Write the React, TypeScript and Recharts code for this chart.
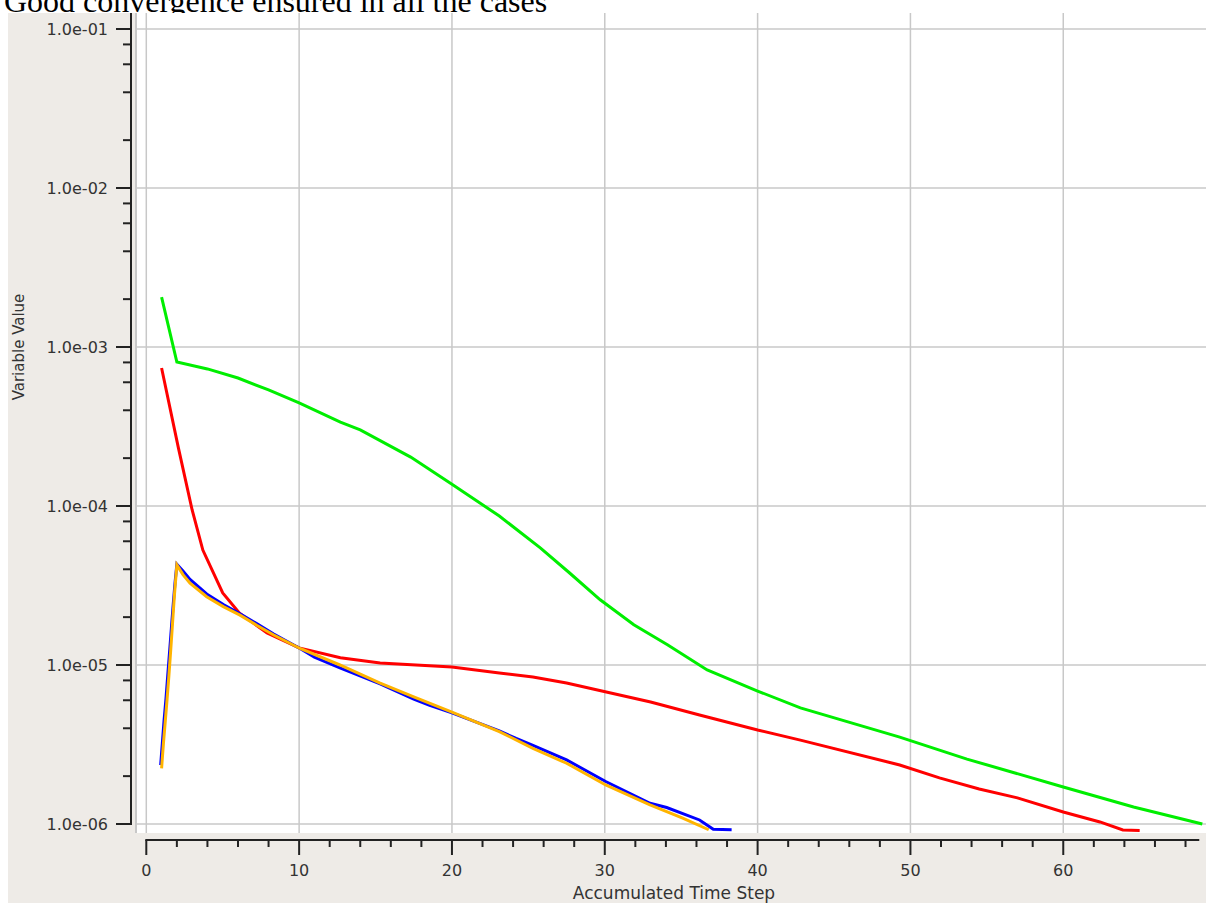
import { LineChart, Line, XAxis, YAxis, CartesianGrid, ReferenceLine } from "recharts";

// chart geometry
const CHART_W = 1198;
const CHART_H = 890;
const Y_AXIS_W = 128;
const X_AXIS_H = 70;
const X_MIN = -0.674;
const X_MAX = 69.34;
const Y_MIN = 8.777e-7;
const Y_MAX = 0.1261;
const X_AXIS_END = 68.9;
const PX_PER_STEP = (CHART_W - Y_AXIS_W) / (X_MAX - X_MIN);

const TEXT = "#333";
const AXIS = "#222";
const GRID = "#c8c8c8";
const FONT = "DejaVu Sans";

// ticks
const xTicks = [0, 2, 4, 6, 8, 10, 12, 14, 16, 18, 20, 22, 24, 26, 28, 30, 32, 34, 36, 38, 40, 42, 44, 46, 48, 50, 52, 54, 56, 58, 60, 62, 64, 66, 68];
const xGrid = [0, 10, 20, 30, 40, 50, 60];
const yMajor = [1e-6, 1e-5, 1e-4, 1e-3, 1e-2, 1e-1];
const yMinorMult = [2, 4, 6, 8];
const yTicks = [
  ...yMajor,
  ...yMajor.slice(0, 5).flatMap((d) => yMinorMult.map((m) => m * d)),
];

// series (accumulated time step, variable value)
const greenSteps = [1, 2, 4, 6, 8, 10, 12.7, 14, 17.3, 20, 23.1, 25.8, 27.7, 29.7, 31.9, 34.1, 36.7, 40, 42.8, 49.3, 53.7, 60, 64.6, 69.1];
const greenValues = [2.06e-3, 8.05e-4, 7.28e-4, 6.38e-4, 5.37e-4, 4.45e-4, 3.37e-4, 3.01e-4, 2.03e-4, 1.37e-4, 8.65e-5, 5.44e-5, 3.79e-5, 2.57e-5, 1.79e-5, 1.34e-5, 9.31e-6, 6.86e-6, 5.37e-6, 3.52e-6, 2.56e-6, 1.71e-6, 1.28e-6, 1.0e-6];

const redSteps = [1, 2.1, 3, 3.7, 5, 6.1, 7.9, 10, 12.7, 15.3, 20, 23.1, 25.3, 27.5, 30.1, 33, 36.2, 40, 42.8, 49.3, 51.9, 54.5, 57, 60, 62.4, 63.9, 65];
const redValues = [7.38e-4, 2.32e-4, 9.44e-5, 5.28e-5, 2.84e-5, 2.12e-5, 1.59e-5, 1.28e-5, 1.11e-5, 1.03e-5, 9.7e-6, 8.9e-6, 8.41e-6, 7.7e-6, 6.76e-6, 5.85e-6, 4.85e-6, 3.9e-6, 3.37e-6, 2.35e-6, 1.95e-6, 1.66e-6, 1.46e-6, 1.19e-6, 1.03e-6, 9.17e-7, 9.1e-7];

const blueSteps = [0.94, 1.05, 1.16, 1.29, 1.4, 1.52, 1.64, 1.76, 1.88, 2, 2.4, 2.86, 3.95, 5.04, 6.13, 7.22, 8.31, 10.06, 11, 12.67, 15.3, 17.5, 18.5, 20, 23.1, 24.2, 25.3, 27.5, 30.06, 32.96, 34.05, 36.2, 37.1, 38.3];
const blueValues = [2.35e-6, 3.23e-6, 4.45e-6, 6.19e-6, 8.53e-6, 1.2e-5, 1.7e-5, 2.4e-5, 3.3e-5, 4.3e-5, 3.9e-5, 3.45e-5, 2.8e-5, 2.4e-5, 2.1e-5, 1.82e-5, 1.57e-5, 1.27e-5, 1.12e-5, 9.6e-6, 7.6e-6, 6.1e-6, 5.6e-6, 5.0e-6, 3.85e-6, 3.45e-6, 3.12e-6, 2.53e-6, 1.85e-6, 1.35e-6, 1.27e-6, 1.06e-6, 9.26e-7, 9.2e-7];

const orangeSteps = [1, 1.12, 1.24, 1.36, 1.48, 1.6, 1.72, 1.84, 2, 2.4, 2.86, 3.95, 5.04, 6.13, 7.22, 8.31, 10.06, 12.67, 15.3, 17.5, 20, 23.1, 25.3, 27.5, 30.06, 32.96, 35.1, 36.8];
const orangeValues = [2.24e-6, 3.2e-6, 4.4e-6, 6.1e-6, 8.6e-6, 1.25e-5, 1.85e-5, 2.75e-5, 4.26e-5, 3.7e-5, 3.27e-5, 2.69e-5, 2.33e-5, 2.06e-5, 1.78e-5, 1.55e-5, 1.27e-5, 1.0e-5, 7.7e-6, 6.3e-6, 5.06e-6, 3.81e-6, 2.99e-6, 2.41e-6, 1.76e-6, 1.32e-6, 1.09e-6, 9.2e-7];

const toData = (steps: number[], values: number[]) =>
  steps.map((x, i) => ({ x, v: values[i] }));

const series = [
  { name: "green", color: "#00ee00", data: toData(greenSteps, greenValues) },
  { name: "red", color: "#ff0000", data: toData(redSteps, redValues) },
  { name: "blue", color: "#0000ff", data: toData(blueSteps, blueValues) },
  { name: "orange", color: "#ffb400", data: toData(orangeSteps, orangeValues) },
];

const isMajor = (v: number) =>
  Math.abs(Math.log10(v) - Math.round(Math.log10(v))) < 1e-6;

const fmtExp = (v: number) => {
  const e = Math.round(Math.log10(v));
  const abs = Math.abs(e);
  return `1.0e${e < 0 ? "-" : "+"}${abs < 10 ? "0" : ""}${abs}`;
};

function YTick(props: any) {
  const { x, y, payload } = props;
  const v = payload.value;
  const major = isMajor(v);
  const ax = x - 5;
  return (
    <g>
      <line x1={ax - (major ? 15 : 8)} x2={ax} y1={y} y2={y} stroke={AXIS} strokeWidth={2} />
      {major && (
        <text x={ax - 23} y={y + 6} textAnchor="end" fontSize={16} fill={TEXT} fontFamily={FONT}>
          {fmtExp(v)}
        </text>
      )}
      {v === yMajor[0] && (
        <line x1={ax} x2={ax} y1={y + 1} y2={0} stroke={AXIS} strokeWidth={2} />
      )}
    </g>
  );
}

function XTick(props: any) {
  const { x, y, payload } = props;
  const v = payload.value;
  const major = v % 10 === 0;
  const ay = y + 7;
  return (
    <g>
      <line x1={x} x2={x} y1={ay} y2={ay + (major ? 15 : 7)} stroke={AXIS} strokeWidth={2} />
      {major && (
        <text x={x} y={y + 43} textAnchor="middle" fontSize={16} fill={TEXT} fontFamily={FONT}>
          {v}
        </text>
      )}
      {v === 0 && (
        <line x1={x - 1} x2={x + X_AXIS_END * PX_PER_STEP} y1={ay} y2={ay} stroke={AXIS} strokeWidth={2} />
      )}
    </g>
  );
}

export default function App() {
  return (
    <div style={{ position: "absolute", left: 0, top: 0, width: 1206, height: 903, overflow: "hidden", background: "#fff" }}>
      <div
        style={{
          position: "absolute",
          left: 4,
          top: -15,
          fontFamily: "Liberation Serif",
          fontSize: 32,
          lineHeight: "32px",
          whiteSpace: "nowrap",
          color: "#000",
        }}
      >
        Good convergence ensured in all the cases
      </div>
      <div style={{ position: "absolute", left: 8, top: 13, width: CHART_W, height: CHART_H, background: "#eeebe7" }}>
        <LineChart width={CHART_W} height={CHART_H} margin={{ top: 0, right: 0, bottom: 0, left: 0 }}>
          <CartesianGrid
            fill="#ffffff"
            stroke={GRID}
            strokeWidth={1.5}
            verticalValues={xGrid}
            horizontalValues={yMajor}
          />
          <XAxis
            dataKey="x"
            type="number"
            domain={[X_MIN, X_MAX]}
            allowDataOverflow
            ticks={xTicks}
            interval={0}
            height={X_AXIS_H}
            axisLine={false}
            tickLine={false}
            tickSize={0}
            tickMargin={0}
            tick={<XTick />}
            label={{
              content: (p: any) => (
                <text
                  x={p.viewBox.x + p.viewBox.width / 2 + 3}
                  y={p.viewBox.y + 66}
                  textAnchor="middle"
                  fontSize={17}
                  fill={TEXT}
                  fontFamily={FONT}
                >
                  Accumulated Time Step
                </text>
              ),
            }}
          />
          <YAxis
            type="number"
            scale="log"
            domain={[Y_MIN, Y_MAX]}
            allowDataOverflow
            ticks={yTicks}
            interval={0}
            width={Y_AXIS_W}
            axisLine={false}
            tickLine={false}
            tickSize={0}
            tickMargin={0}
            tick={<YTick />}
            label={{
              content: (p: any) => (
                <text
                  x={p.viewBox.x + 16}
                  y={334}
                  transform={`rotate(-90, ${p.viewBox.x + 16}, 334)`}
                  textAnchor="middle"
                  fontSize={15}
                  fill={TEXT}
                  fontFamily={FONT}
                >
                  Variable Value
                </text>
              ),
            }}
          />
          <ReferenceLine x={X_MIN} stroke={GRID} strokeWidth={2} />
          {series.map((s) => (
            <Line
              key={s.name}
              data={s.data}
              dataKey="v"
              type="linear"
              stroke={s.color}
              strokeWidth={3}
              dot={false}
              activeDot={false}
              isAnimationActive={false}
            />
          ))}
        </LineChart>
      </div>
    </div>
  );
}
